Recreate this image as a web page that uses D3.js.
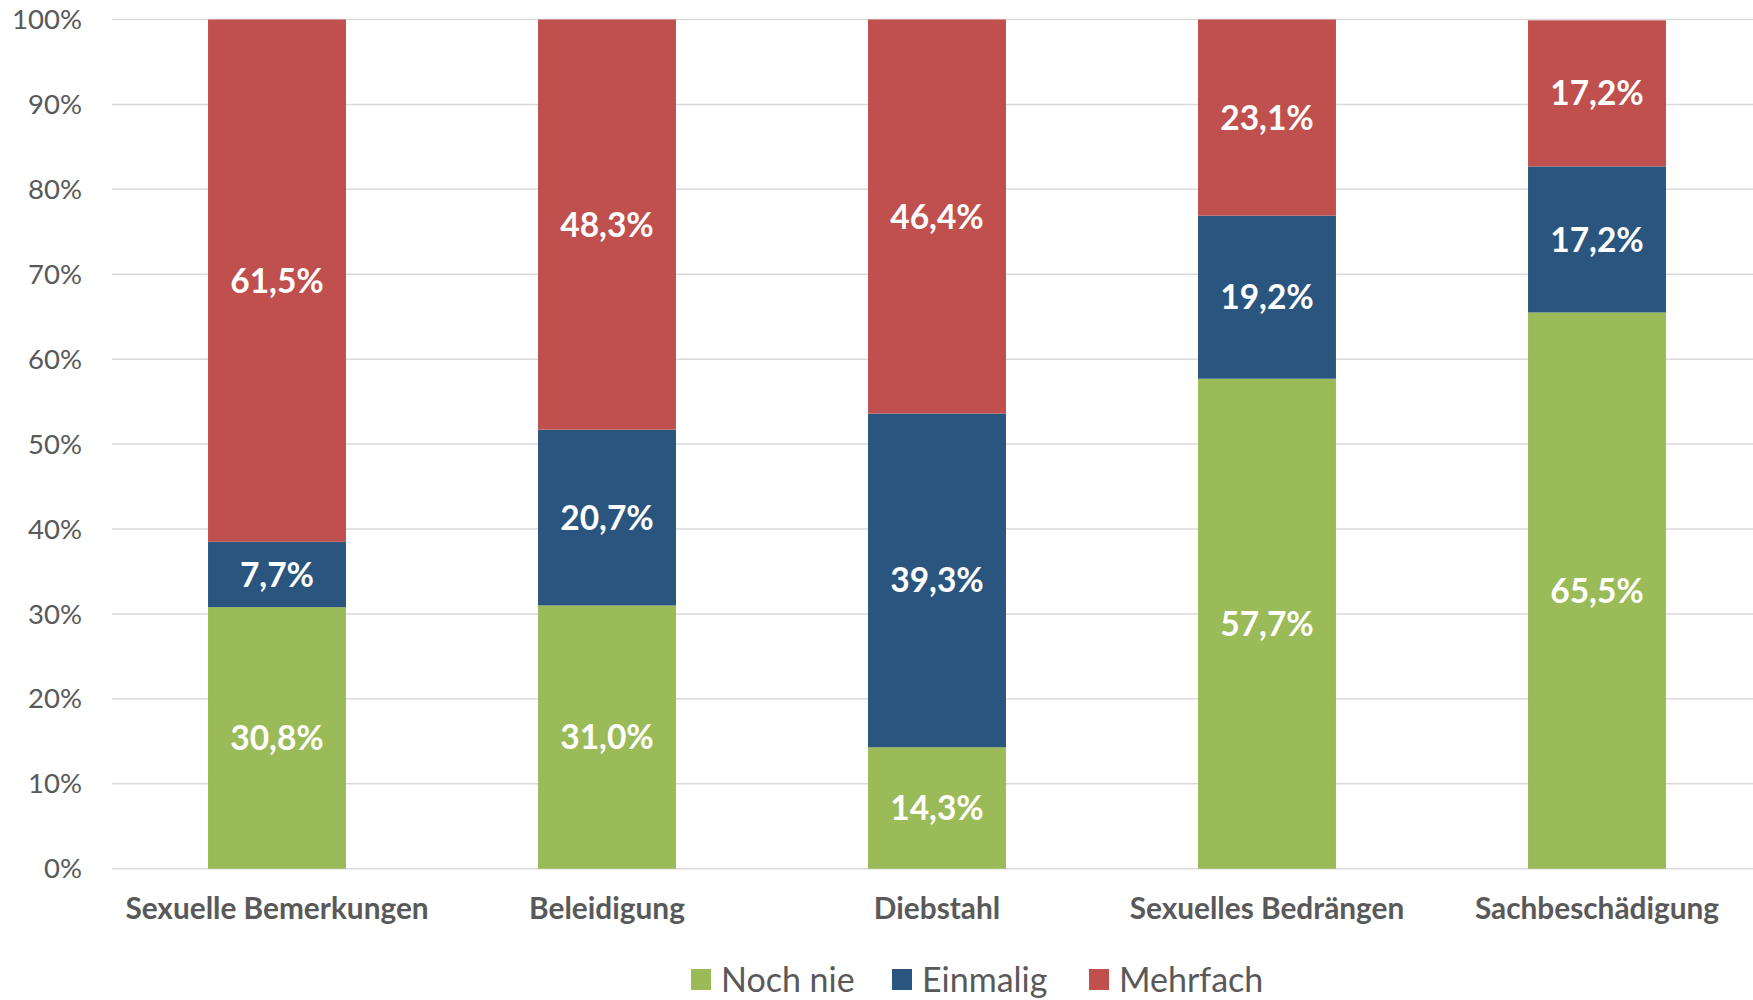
<!DOCTYPE html>
<html><head><meta charset="utf-8">
<script src="https://cdn.jsdelivr.net/npm/d3@7"></script>
<style>body{margin:0;background:#fff;overflow:hidden}svg{display:block}</style>
</head><body>
<script>
const categories = ["Sexuelle Bemerkungen","Beleidigung","Diebstahl","Sexuelles Bedrängen","Sachbeschädigung"];
const seriesNames = ["Noch nie","Einmalig","Mehrfach"];
const nochNie = [30.8, 31.0, 14.3, 57.7, 65.5];
const einmalig = [7.7, 20.7, 39.3, 19.2, 17.2];
const mehrfach = [61.5, 48.3, 46.4, 23.1, 17.2];
const yTicks = [0,10,20,30,40,50,60,70,80,90,100];
const colors = ["#9BBB59","#2A557E","#C0504D"];

const W = 1753, H = 1000;
const svg = d3.select("body").append("svg").attr("width", W).attr("height", H);
const font = "Lato, 'Open Sans', sans-serif";

const x = d3.scaleBand().domain(categories).range([112, 1762]).paddingInner(0.582).paddingOuter(0.291);
const y = d3.scaleLinear().domain([0,100]).range([868.7, 19.5]);

// grid
svg.append("g").selectAll("line").data(yTicks).join("line")
  .attr("x1", 112).attr("x2", W).attr("y1", d => y(d)).attr("y2", d => y(d))
  .attr("stroke", "#d9d9d9").attr("stroke-width", 1.5);

// y labels
svg.append("g").selectAll("text").data(yTicks).join("text")
  .attr("x", 82).attr("y", d => y(d)).attr("dy", "0.35em").attr("text-anchor", "end")
  .attr("font-family", font).attr("font-size", 27.5).attr("fill", "#595959")
  .text(d => d + "%");

const table = categories.map((c,i) => ({cat:c, "Noch nie":nochNie[i], "Einmalig":einmalig[i], "Mehrfach":mehrfach[i]}));
const stacked = d3.stack().keys(seriesNames)(table);

const fmt = v => v.toFixed(1).replace(".", ",") + "%";

stacked.forEach((s, si) => {
  const g = svg.append("g");
  g.selectAll("rect").data(s).join("rect")
    .attr("x", d => x(d.data.cat)).attr("width", x.bandwidth())
    .attr("y", d => y(d[1])).attr("height", d => y(d[0]) - y(d[1]))
    .attr("fill", colors[si]);
  g.selectAll("text").data(s).join("text")
    .attr("x", d => x(d.data.cat) + x.bandwidth()/2)
    .attr("y", d => y((d[0]+d[1])/2)).attr("dy", "0.36em")
    .attr("text-anchor", "middle").attr("font-family", font).attr("font-weight", "bold")
    .attr("font-size", 33.5).attr("fill", "#fff")
    .text(d => fmt(d.data[s.key]));
});

// x labels
svg.append("g").selectAll("text").data(categories).join("text")
  .attr("x", d => x(d) + x.bandwidth()/2).attr("y", 919).attr("text-anchor", "middle")
  .attr("font-family", font).attr("font-weight", "bold").attr("font-size", 29.8).attr("fill", "#595959")
  .text(d => d);

// legend
const legendX = [691, 892, 1089];
const lg = svg.append("g");
seriesNames.forEach((n, i) => {
  lg.append("rect").attr("x", legendX[i]).attr("y", 969).attr("width", 20).attr("height", 21).attr("fill", colors[i]);
  lg.append("text").attr("x", legendX[i] + 30).attr("y", 992).attr("font-family", font)
    .attr("font-size", 34).attr("fill", "#595959").text(n);
});
</script>
</body></html>
